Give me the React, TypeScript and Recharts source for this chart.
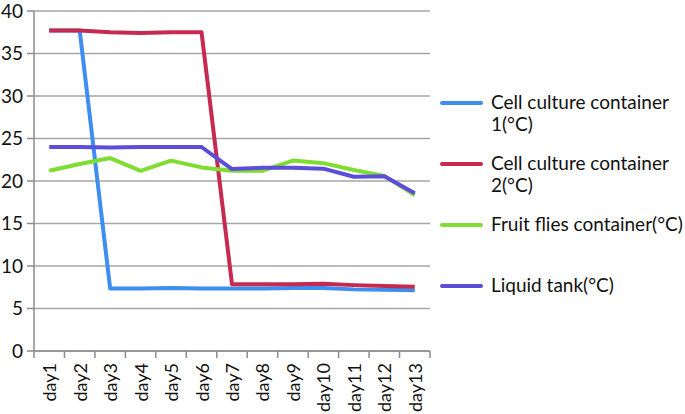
import React from 'react'
import { LineChart, Line, XAxis, YAxis, CartesianGrid } from 'recharts'

const days = ['day1', 'day2', 'day3', 'day4', 'day5', 'day6', 'day7', 'day8', 'day9', 'day10', 'day11', 'day12', 'day13']
const cell1 = [37.7, 37.7, 7.35, 7.35, 7.4, 7.35, 7.35, 7.35, 7.4, 7.4, 7.25, 7.2, 7.15]
const cell2 = [37.7, 37.7, 37.5, 37.4, 37.5, 37.5, 7.85, 7.85, 7.85, 7.9, 7.75, 7.65, 7.55]
const fruitFlies = [21.2, 22.0, 22.7, 21.2, 22.4, 21.6, 21.2, 21.2, 22.4, 22.1, 21.3, 20.6, 18.35]
const liquidTank = [24.0, 24.0, 23.95, 24.0, 24.0, 24.0, 21.4, 21.55, 21.55, 21.45, 20.5, 20.55, 18.55]
const yTicks = [0, 5, 10, 15, 20, 25, 30, 35, 40]

const series = [
  { key: 'cell1', name: 'Cell culture container 1(°C)', color: '#3d8ef0', values: cell1 },
  { key: 'cell2', name: 'Cell culture container 2(°C)', color: '#c62a50', values: cell2 },
  { key: 'fruit', name: 'Fruit flies container(°C)', color: '#7fdc32', values: fruitFlies },
  { key: 'tank', name: 'Liquid tank(°C)', color: '#5c4ed8', values: liquidTank },
]

const data = days.map((day, i) => {
  const row: Record<string, string | number> = { day }
  series.forEach(s => { row[s.key] = s.values[i] })
  return row
})

const FONT = 'Lato, "Open Sans", sans-serif'
const AXIS = '#8c8c8c'

// ticks sit between categories, like Excel does
const DayTick = (props: any) => {
  const { x, y, payload, index } = props
  const half = 396 / days.length / 2
  return (
    <g>
      <line x1={x - half} y1={y} x2={x - half} y2={y + 7} stroke={AXIS} strokeWidth={1.5} />
      {index === days.length - 1 && (
        <line x1={x + half} y1={y} x2={x + half} y2={y + 7} stroke={AXIS} strokeWidth={1.5} />
      )}
      <text
        x={x}
        y={y + 12}
        transform={`rotate(-90, ${x}, ${y + 12})`}
        textAnchor="end"
        dominantBaseline="central"
        fontSize={18}
        fontFamily={FONT}
        fill="#111"
      >
        {payload.value}
      </text>
    </g>
  )
}

export default function App() {
  return (
    <div style={{ position: 'absolute', left: 0, top: 0, width: 685, height: 414, background: '#fff' }}>
      <LineChart width={685} height={414} data={data} margin={{ top: 11, right: 255, bottom: 0, left: 0 }}>
        <CartesianGrid vertical={false} stroke="#a6a6a6" strokeWidth={1.5} />
        <XAxis
          dataKey="day"
          scale="band"
          interval={0}
          height={63}
          tickLine={false}
          tickSize={0}
          tickMargin={0}
          axisLine={{ stroke: AXIS, strokeWidth: 1.5 }}
          tick={<DayTick />}
        />
        <YAxis
          domain={[0, 40]}
          ticks={yTicks}
          width={34}
          tickSize={7}
          tickMargin={4}
          axisLine={{ stroke: AXIS, strokeWidth: 1.5 }}
          tickLine={{ stroke: AXIS, strokeWidth: 1.5 }}
          tick={{ fontSize: 19, fontFamily: FONT, fill: '#111' }}
        />
        {series.map(s => (
          <Line
            key={s.key}
            dataKey={s.key}
            name={s.name}
            stroke={s.color}
            strokeWidth={4}
            dot={false}
            activeDot={false}
            isAnimationActive={false}
            strokeLinejoin="round"
          />
        ))}
      </LineChart>
      <div style={{ position: 'absolute', left: 440, top: 91, fontFamily: FONT, fontSize: 19, color: '#111' }}>
        {series.map(s => (
          <div key={s.key} style={{ display: 'flex', height: 61, alignItems: 'flex-start' }}>
            <div style={{ width: 43, height: 4, borderRadius: 2, background: s.color, marginTop: 10, marginRight: 8, flexShrink: 0 }} />
            <div style={{ width: 196, lineHeight: '22px' }}>{s.name}</div>
          </div>
        ))}
      </div>
    </div>
  )
}
